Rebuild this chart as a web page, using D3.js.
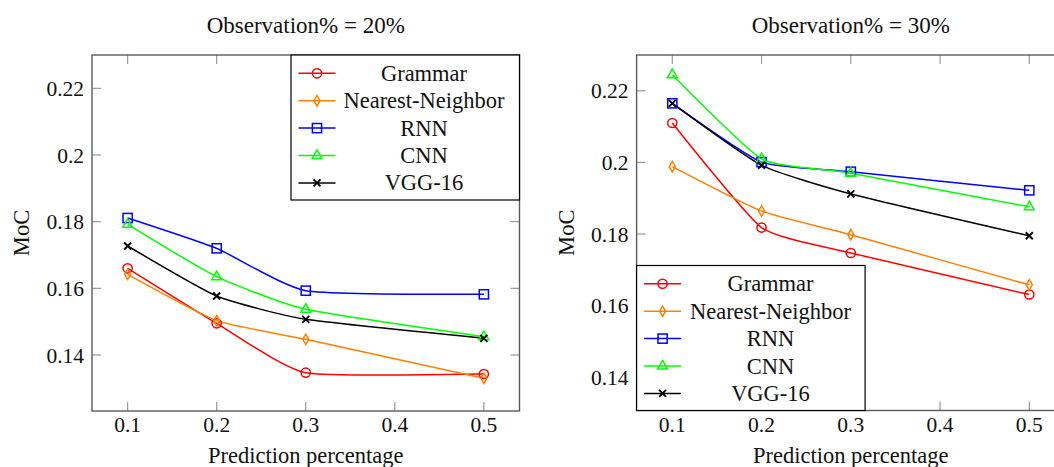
<!DOCTYPE html>
<html>
<head>
<meta charset="utf-8">
<script src="https://cdn.jsdelivr.net/npm/d3@7"></script>
<style>
  html, body { margin: 0; padding: 0; background: #fff; }
  svg { display: block; }
  svg text { font-family: "Liberation Serif", "DejaVu Serif", "Noto Serif", Tinos, FreeSerif, "Times New Roman", Times, serif; }
</style>
</head>
<body>
<svg id="chart" width="1054" height="467"></svg>
<script>
// Prediction percentages on the x axis
const predictionPct = [0.1, 0.2, 0.3, 0.5];
const xTickValues = [0.1, 0.2, 0.3, 0.4, 0.5];
const yTickValues = [0.14, 0.16, 0.18, 0.2, 0.22];

const methods = ["Grammar", "Nearest-Neighbor", "RNN", "CNN", "VGG-16"];
const methodColors = ["#ff0000", "#ff8000", "#0000ff", "#00ff00", "#000000"];
const methodMarks = ["circle", "diamond", "square", "triangle", "cross"];

// MoC at 20% observation
const grammar20 = [0.166, 0.1495, 0.1347, 0.1343];
const nearest20 = [0.1642, 0.1503, 0.1447, 0.133];
const rnn20     = [0.1811, 0.172, 0.1593, 0.1582];
const cnn20     = [0.1792, 0.1635, 0.1537, 0.1455];
const vgg20     = [0.1727, 0.1577, 0.1507, 0.145];

// MoC at 30% observation
const grammar30 = [0.211, 0.1818, 0.1747, 0.1631];
const nearest30 = [0.1988, 0.1864, 0.1798, 0.1658];
const rnn30     = [0.2165, 0.2001, 0.1974, 0.1922];
const cnn30     = [0.2245, 0.201, 0.197, 0.1876];
const vgg30     = [0.2165, 0.1992, 0.1912, 0.1795];

const panels = [
  {
    title: "Observation% = 20%",
    series: [grammar20, nearest20, rnn20, cnn20, vgg20],
    x0: 92, x1: 519.5, y0: 55, y1: 411,
    yDomain: [0.1232, 0.23],
    yLabelX: 22,
    legend: { x: 291, y: 55, w: 228.5, h: 145, textX: 424 }
  },
  {
    title: "Observation% = 30%",
    series: [grammar30, nearest30, rnn30, cnn30, vgg30],
    x0: 636.6, x1: 1065, y0: 55, y1: 410.5,
    yDomain: [0.1307, 0.23],
    yLabelX: 567,
    legend: { x: 636.6, y: 265.5, w: 228.5, h: 145, textX: 770.5 }
  }
];

const svg = d3.select("#chart");

function drawMark(g, type, color) {
  const sw = 1.5;
  if (type === "circle") {
    g.append("circle").attr("r", 4.6).attr("fill", "none").attr("stroke", color).attr("stroke-width", sw);
  } else if (type === "diamond") {
    g.append("path").attr("d", "M0,-5.2L3,0L0,5.2L-3,0Z").attr("fill", "none").attr("stroke", color).attr("stroke-width", sw);
  } else if (type === "square") {
    g.append("rect").attr("x", -4.6).attr("y", -4.6).attr("width", 9.2).attr("height", 9.2)
      .attr("fill", "none").attr("stroke", color).attr("stroke-width", sw);
  } else if (type === "triangle") {
    g.append("path").attr("d", "M0,-5.6L4.9,3L-4.9,3Z").attr("fill", "none").attr("stroke", color).attr("stroke-width", sw);
  } else if (type === "cross") {
    g.append("path").attr("d", "M-3.5,-3.5L3.5,3.5M-3.5,3.5L3.5,-3.5").attr("fill", "none").attr("stroke", color).attr("stroke-width", 1.9);
  }
}

panels.forEach(p => {
  const x = d3.scaleLinear().domain([0.06, 0.54]).range([p.x0, p.x1]);
  const y = d3.scaleLinear().domain(p.yDomain).range([p.y1, p.y0]);
  const g = svg.append("g").attr("fill", "#111");

  // inner ticks on all four sides
  const tickLen = 9;
  const tickColor = "#9a9a9a";
  const ticks = g.append("g").attr("stroke", tickColor).attr("stroke-width", 1.2);
  xTickValues.forEach(v => {
    ticks.append("line").attr("x1", x(v)).attr("x2", x(v)).attr("y1", p.y1).attr("y2", p.y1 - tickLen);
    ticks.append("line").attr("x1", x(v)).attr("x2", x(v)).attr("y1", p.y0).attr("y2", p.y0 + tickLen);
  });
  yTickValues.forEach(v => {
    ticks.append("line").attr("x1", p.x0).attr("x2", p.x0 + tickLen).attr("y1", y(v)).attr("y2", y(v));
    ticks.append("line").attr("x1", p.x1).attr("x2", p.x1 - tickLen).attr("y1", y(v)).attr("y2", y(v));
  });

  // axis frame
  g.append("rect")
    .attr("x", p.x0).attr("y", p.y0)
    .attr("width", p.x1 - p.x0).attr("height", p.y1 - p.y0)
    .attr("fill", "none").attr("stroke", "#5a5a5a").attr("stroke-width", 1.4);

  // tick labels
  const fmt = d3.format("");
  g.selectAll(".xt").data(xTickValues).join("text")
    .attr("x", d => x(d)).attr("y", 432)
    .attr("text-anchor", "middle").attr("font-size", 21.5)
    .text(d => fmt(d));
  g.selectAll(".yt").data(yTickValues).join("text")
    .attr("x", p.x0 - 8).attr("y", d => y(d) + 7.5)
    .attr("text-anchor", "end").attr("font-size", 21.5)
    .text(d => fmt(d));

  // axis titles
  g.append("text").attr("x", (p.x0 + p.x1) / 2).attr("y", 463)
    .attr("text-anchor", "middle").attr("font-size", 22.5).text("Prediction percentage");
  g.append("text")
    .attr("transform", `translate(${p.yLabelX + 7},${(p.y0 + p.y1) / 2}) rotate(-90)`)
    .attr("text-anchor", "middle").attr("font-size", 22.5).text("MoC");
  g.append("text").attr("x", (p.x0 + p.x1) / 2).attr("y", 33)
    .attr("text-anchor", "middle").attr("font-size", 23).text(p.title);

  // series lines and marks
  const line = d3.line()
    .x((d, i) => x(predictionPct[i]))
    .y(d => y(d))
    .curve(d3.curveCardinal.tension(0.5));

  p.series.forEach((vals, si) => {
    g.append("path").datum(vals)
      .attr("d", line)
      .attr("fill", "none")
      .attr("stroke", methodColors[si])
      .attr("stroke-width", 1.5);
  });
  p.series.forEach((vals, si) => {
    vals.forEach((v, i) => {
      const mg = g.append("g").attr("transform", `translate(${x(predictionPct[i])},${y(v)})`);
      drawMark(mg, methodMarks[si], methodColors[si]);
    });
  });

  // legend
  const L = p.legend;
  const lg = g.append("g");
  lg.append("rect").attr("x", L.x).attr("y", L.y).attr("width", L.w).attr("height", L.h)
    .attr("fill", "#fff").attr("stroke", "#000").attr("stroke-width", 1.2);
  const rowStep = 27.4;
  methods.forEach((name, i) => {
    const ry = L.y + 18.3 + i * rowStep;
    lg.append("line").attr("x1", L.x + 7.5).attr("x2", L.x + 44.5).attr("y1", ry).attr("y2", ry)
      .attr("stroke", methodColors[i]).attr("stroke-width", 1.5);
    const mg = lg.append("g").attr("transform", `translate(${L.x + 26},${ry})`);
    drawMark(mg, methodMarks[i], methodColors[i]);
    lg.append("text").attr("x", L.textX).attr("y", ry + 7.5)
      .attr("text-anchor", "middle").attr("font-size", 22.5).text(name);
  });
});
</script>
</body>
</html>
